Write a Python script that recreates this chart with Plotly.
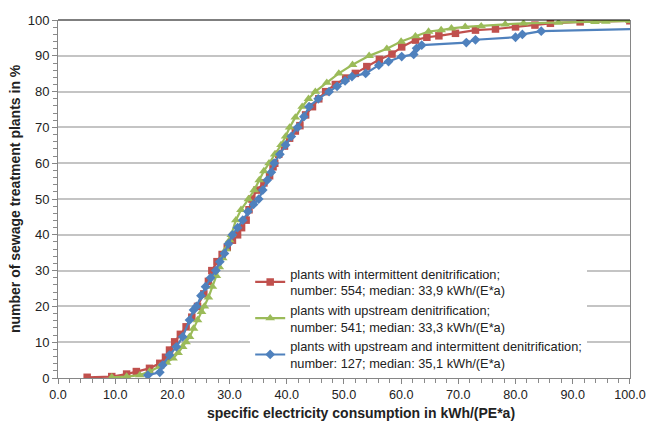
import plotly.graph_objects as go

# ---- data ----
intermittent_x = [5.1, 9.4, 12.0, 13.7, 16.0, 17.8, 18.8, 19.5, 20.4, 21.4, 22.4, 23.4, 24.4, 25.5,
                  26.3, 26.9, 27.8, 28.7, 29.6, 30.5, 31.4, 32.1, 32.9, 33.4, 33.9, 34.8, 36.0, 37.0,
                  37.6, 37.9, 38.6, 39.6, 40.5, 41.5, 42.3, 43.3, 44.5, 45.6, 46.8, 48.5, 50.3, 52.0,
                  54.0, 56.2, 58.4, 60.1, 62.5, 64.5, 66.6, 69.5, 73.0, 76.5, 80.0, 83.4, 86.1, 91.3, 100.0]
intermittent_y = [0.2, 0.4, 1.1, 1.8, 2.7, 4.1, 5.8, 7.8, 10.1, 12.2, 14.3, 17.0, 20.0, 23.5,
                  27.0, 30.0, 32.5, 34.5, 36.5, 38.5, 40.0, 42.0, 44.1, 47.0, 50.0, 52.5, 54.5, 56.5,
                  59.0, 60.0, 62.5, 64.8, 67.0, 69.0, 70.5, 73.5, 75.8, 78.0, 80.0, 82.0, 83.8, 85.1,
                  87.0, 89.0, 90.5, 92.5, 94.4, 95.2, 95.6, 96.3, 97.2, 97.5, 98.1, 98.6, 99.1, 99.5, 99.8]

upstream_x = [9.4, 12.0, 14.3, 16.0, 17.8, 19.0, 20.1, 21.0, 21.8, 22.4, 23.0, 23.7, 24.4, 25.1,
              25.6, 26.3, 27.0, 27.7, 28.2, 28.8, 29.4, 30.0, 30.3, 31.1, 32.0, 33.3, 34.3, 35.2,
              36.0, 36.9, 37.9, 39.0, 39.8, 40.5, 41.5, 42.7, 43.8, 45.0, 47.0, 49.1, 51.5, 54.4,
              57.5, 60.0, 62.5, 64.8, 67.0, 68.8, 71.2, 74.0, 78.2, 81.4, 87.5, 93.9, 95.8, 100.0]
upstream_y = [0.2, 0.4, 0.8, 1.8, 3.2, 4.3, 5.5, 7.0, 8.7, 10.0, 11.5, 13.8, 16.2, 18.5,
              20.0, 22.5, 25.5, 28.5, 31.0, 33.5, 36.0, 38.5, 40.0, 44.1, 47.0, 50.0, 52.5, 55.3,
              57.8, 60.0, 62.5, 65.1, 67.5, 70.0, 72.8, 75.8, 78.0, 80.0, 82.5, 85.1, 87.5, 90.0,
              92.0, 94.0, 95.5, 96.8, 97.2, 97.7, 98.1, 98.3, 98.8, 99.1, 99.3, 99.5, 99.6, 99.8]

combined_x = [15.7, 17.8, 18.3, 19.5, 20.7, 21.8, 23.0, 23.7, 24.2, 25.0, 25.8, 26.7, 27.6, 28.3,
              29.1, 29.8, 30.5, 31.4, 32.3, 33.2, 34.2, 35.1, 35.8, 36.6, 37.3, 37.8, 38.8, 39.8,
              40.8, 41.9, 43.0, 43.9, 45.5, 47.4, 48.8, 50.2, 51.4, 53.8, 56.1, 57.8, 60.1, 62.2,
              62.7, 63.6, 71.4, 73.0, 80.0, 81.2, 84.5, 110.0]
combined_y = [0.8, 1.6, 3.6, 6.4, 8.7, 11.5, 16.2, 19.0, 20.0, 23.0, 25.5, 28.0, 30.0, 32.5,
              34.8, 37.5, 40.0, 42.0, 44.1, 46.5, 48.5, 50.0, 52.5, 55.3, 57.5, 60.0, 62.5, 65.1,
              67.5, 70.0, 73.0, 75.8, 78.0, 80.0, 81.5, 83.0, 84.2, 85.1, 87.4, 88.4, 89.8, 90.4,
              92.1, 93.0, 93.7, 94.5, 95.2, 96.0, 96.9, 97.8]

series_names = [
    "plants with intermittent denitrification;<br>number: 554; median: 33,9 kWh/(E*a)",
    "plants with upstream denitrification;<br>number: 541; median: 33,3 kWh/(E*a)",
    "plants with upstream and intermittent denitrification;<br>number: 127; median: 35,1 kWh/(E*a)",
]

# ---- styles ----
RED = "#C0504D"
GREEN = "#9BBB59"
BLUE = "#4F81BD"
FONT = "Liberation Sans, Arial, sans-serif"
AXIS = "#868686"

fig = go.Figure()
fig.add_trace(go.Scatter(x=intermittent_x, y=intermittent_y, name=series_names[0],
                         mode="lines+markers", line=dict(color=RED, width=2.2),
                         marker=dict(symbol="square", size=7.5, color=RED), cliponaxis=True))
fig.add_trace(go.Scatter(x=upstream_x, y=upstream_y, name=series_names[1],
                         mode="lines+markers", line=dict(color=GREEN, width=2.2),
                         marker=dict(symbol="triangle-up", size=8.5, color=GREEN), cliponaxis=True))
fig.add_trace(go.Scatter(x=combined_x, y=combined_y, name=series_names[2],
                         mode="lines+markers", line=dict(color=BLUE, width=2.2),
                         marker=dict(symbol="diamond", size=7.5, color=BLUE), cliponaxis=True))

fig.update_layout(
    width=646, height=421,
    margin=dict(l=58, r=16, t=20, b=43, autoexpand=False),
    plot_bgcolor="white", paper_bgcolor="white",
    font=dict(family=FONT, size=13, color="#222"),
    showlegend=True,
    legend=dict(x=0.336, y=0.333, xanchor="left", yanchor="top",
                bgcolor="white", font=dict(family=FONT, size=12.8, color="#222"),
                itemwidth=30, tracegroupgap=4),
)

fig.update_xaxes(range=[0, 100.02], tick0=0, dtick=10, tickformat=".1f",
                 ticklabeloverflow="allow", automargin=False,
                 showgrid=False, showline=True, linecolor=AXIS, linewidth=1,
                 ticks="outside", ticklen=5, tickcolor=AXIS, tickwidth=1,
                 minor=dict(dtick=2, tick0=0, ticks="outside", ticklen=4, tickwidth=1,
                            tickcolor="#8a8a8a", showgrid=False),
                 zeroline=False, mirror=False, tickfont=dict(size=12.6, color="#222"))
fig.update_yaxes(range=[0, 100.02], tick0=0, dtick=10, automargin=False,
                 showgrid=True, gridcolor="#C4C4C4", gridwidth=1.5,
                 showline=True, linecolor=AXIS, linewidth=1,
                 ticks="outside", ticklen=5, tickcolor=AXIS, tickwidth=1,
                 minor=dict(dtick=2, tick0=0, ticks="outside", ticklen=4, tickwidth=1,
                            tickcolor="#8a8a8a", showgrid=False),
                 zeroline=False, mirror=True, tickfont=dict(size=13, color="#222"))

# top border line (black) of the plot area
fig.add_shape(type="line", xref="paper", yref="paper", x0=0, x1=1, y0=1, y1=1,
              line=dict(color="#000000", width=1.2))

# axis titles
fig.add_annotation(text="<b>specific electricity consumption in kWh/(PE*a)</b>",
                   xref="paper", yref="paper", x=0.53, y=-0.098, xanchor="center", yanchor="middle",
                   showarrow=False, font=dict(family=FONT, size=14, color="#222"))
fig.add_annotation(text="<b>number of sewage treatment plants in %</b>",
                   xref="paper", yref="paper", x=-0.075, y=0.5, xanchor="center", yanchor="middle",
                   textangle=-90, showarrow=False, font=dict(family=FONT, size=14, color="#222"))

fig.write_html("out.html")
